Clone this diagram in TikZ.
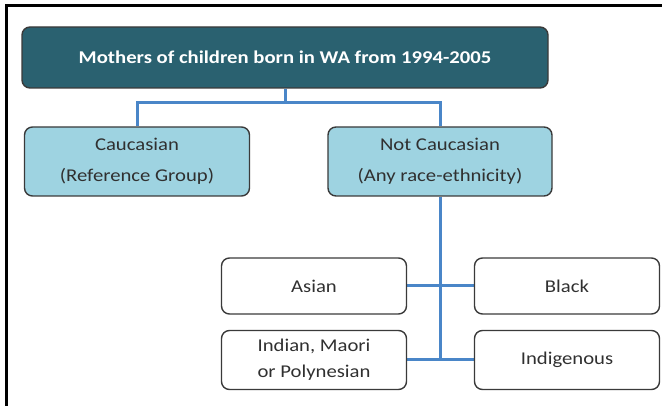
\documentclass[tikz,border=0pt]{standalone}
\usepackage{fontspec}
\setmainfont{Carlito}[FakeStretch=1.15]
\usetikzlibrary{backgrounds}
\definecolor{titlefill}{HTML}{2A6170}
\definecolor{lightfill}{HTML}{9ED3E1}
\definecolor{boxline}{HTML}{3A3A3A}
\definecolor{connblue}{HTML}{4A86C8}
\definecolor{txt}{HTML}{303030}
\begin{document}
\begin{tikzpicture}[x=1pt,y=-1pt,
  box/.style={draw=boxline, line width=1.4pt, rounded corners=8pt, inner sep=0pt,
    align=center, font=\fontsize{18}{31}\selectfont, text=txt},
  conn/.style={draw=connblue, line width=3pt}]
\useasboundingbox (0,0) rectangle (665,406);
\draw[line width=3pt] (6,406) -- (6,6) -- (662,6);
\node[box, fill=titlefill, text=white, minimum width=526pt, minimum height=61pt,
  font=\bfseries\fontsize{18}{20}\selectfont] (title) at (285,57.5) {Mothers of children born in WA from 1994-2005};
\node[box, fill=lightfill, minimum width=225pt, minimum height=69pt] (cauc) at (137,161.5) {Caucasian\\(Reference Group)};
\node[box, fill=lightfill, minimum width=224pt, minimum height=69pt] (notc) at (440,161.5) {Not Caucasian\\(Any race-ethnicity)};
\node[box, minimum width=185pt, minimum height=56pt] (asian) at (314,286) {Asian};
\node[box, minimum width=185pt, minimum height=56pt] (black) at (567,286) {Black};
\node[box, minimum width=185pt, minimum height=59pt, font=\fontsize{18}{26}\selectfont] (indian) at (314,360) {Indian, Maori\\or Polynesian};
\node[box, minimum width=185pt, minimum height=59pt] (indig) at (567,360) {Indigenous};
\coordinate (bus) at (0,103);
\begin{scope}[on background layer]
\draw[conn] (title.south) -- (title.south |- bus);
\draw[conn] (cauc.north) -- (cauc.north |- bus) -- (notc.north |- bus) -- (notc.north);
\draw[conn] (notc.south) -- (notc.south |- indian.east);
\draw[conn] (asian.east) -- (black.west);
\draw[conn] (indian.east) -- (indig.west);
\end{scope}
\end{tikzpicture}
\end{document}
